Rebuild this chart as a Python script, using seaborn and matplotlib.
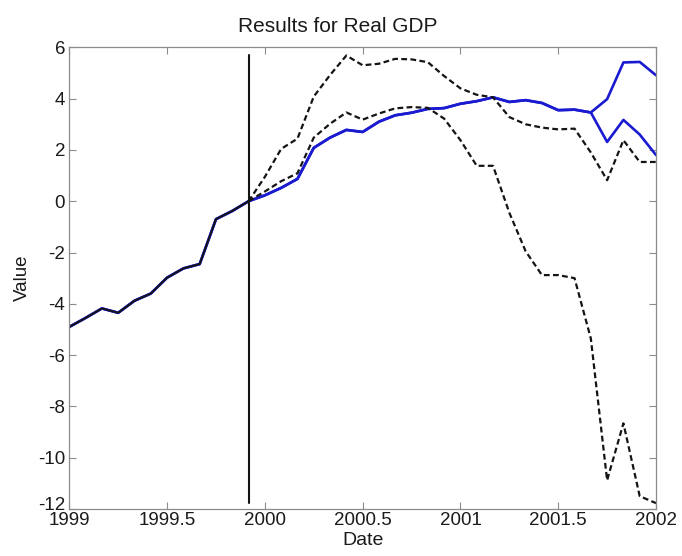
import numpy as np
import pandas as pd
import matplotlib
matplotlib.use("Agg")
import matplotlib.pyplot as plt
import matplotlib.transforms as mtransforms
import seaborn as sns

# monthly dates, Jan 1999 .. Jan 2002
dates = 1999 + np.arange(37) / 12.0

# observed history up to the forecast origin (1999 + 11/12)
history = [-4.90, -4.55, -4.18, -4.35, -3.88, -3.60, -2.98, -2.62, -2.45, -0.70, -0.38, 0.00]

# blue path after the origin (shared part, i = 12..32)
blue_shared = [0.23, 0.52, 0.87, 2.08, 2.48, 2.78, 2.70, 3.10, 3.35, 3.45, 3.60,
               3.63, 3.80, 3.90, 4.05, 3.87, 3.94, 3.83, 3.55, 3.57, 3.46]
# the two blue tails (i = 33..36)
blue_tail_upper = [3.98, 5.41, 5.43, 4.91]
blue_tail_lower = [2.31, 3.17, 2.60, 1.80]

# dashed bands from the origin (i = 11..36)
band_upper = [0.00, 0.95, 2.04, 2.44, 4.08, 4.92, 5.68, 5.30, 5.36, 5.55, 5.53, 5.42, 4.88,
              4.40, 4.15, 4.05, 3.28, 3.00, 2.87, 2.80, 2.83, 1.90, 0.82, 2.38, 1.53, 1.53]
band_lower = [0.00, 0.38, 0.78, 1.09, 2.48, 3.02, 3.46, 3.18, 3.42, 3.62, 3.67, 3.64, 3.22,
              2.38, 1.38, 1.38, -0.45, -1.95, -2.88, -2.88, -3.00, -5.35, -10.88, -8.66,
              -11.50, -11.77]

origin = 1999 + 11 / 12.0
origin_line = [-11.75, 5.70]

x_ticks = [1999, 1999.5, 2000, 2000.5, 2001, 2001.5, 2002]
x_tick_labels = ["1999", "1999.5", "2000", "2000.5", "2001", "2001.5", "2002"]
y_ticks = list(range(-12, 7, 2))

sns.set_theme(style="white")
plt.rcParams['font.family'] = ['Liberation Sans', 'DejaVu Sans']
plt.rcParams['axes.unicode_minus'] = False

blue_a = pd.DataFrame({'Date': dates, 'Value': history + blue_shared + blue_tail_upper})
blue_b = pd.DataFrame({'Date': dates, 'Value': history + blue_shared + blue_tail_lower})
hist = pd.DataFrame({'Date': dates[:12], 'Value': history})
up = pd.DataFrame({'Date': dates[11:], 'Value': band_upper})
lo = pd.DataFrame({'Date': dates[11:], 'Value': band_lower})

fig = plt.figure(figsize=(6.82, 5.56), dpi=100)
ax = fig.add_axes([0.1016, 0.0845, 0.8603, 0.8304])

blue = '#1a1ad0'
sns.lineplot(data=blue_b, x='Date', y='Value', color=blue, linewidth=1.9, ax=ax)
sns.lineplot(data=blue_a, x='Date', y='Value', color=blue, linewidth=1.9, ax=ax)
sns.lineplot(data=hist, x='Date', y='Value', color='#141414', linewidth=1.4, ax=ax)
sns.lineplot(data=up, x='Date', y='Value', color='#141414', linewidth=1.6,
             linestyle=(0, (2.6, 1.5)), ax=ax)
sns.lineplot(data=lo, x='Date', y='Value', color='#141414', linewidth=1.6,
             linestyle=(0, (2.6, 1.5)), ax=ax)
ax.plot([origin, origin], origin_line, color='#141414', linewidth=1.5)

ax.set_xlim(1999, 2002)
ax.set_ylim(-12, 6)
ax.set_xticks(x_ticks)
ax.set_xticklabels(x_tick_labels)
ax.set_yticks(y_ticks)

for s in ax.spines.values():
    s.set_color('#8c8c8c')
    s.set_linewidth(0.9)
ax.tick_params(direction='in', length=5, width=0.8, color='#8c8c8c',
               top=True, right=True, bottom=True, left=True,
               labelsize=13.5, labelcolor='#1a1a1a', pad=2)
ax.tick_params(axis='y', pad=3)

# MATLAB draws the lowest y label a little above the axis corner
fig.canvas.draw()
ylabels = ax.get_yticklabels()
ylabels[0].set_transform(ylabels[0].get_transform() +
                         mtransforms.ScaledTranslation(0, 4 / 72, fig.dpi_scale_trans))

ax.set_title('Results for Real GDP', fontsize=15, color='#1a1a1a', pad=11, x=0.457)
ax.set_xlabel('Date', fontsize=14, color='#1a1a1a', labelpad=2)
ax.set_ylabel('Value', fontsize=13.5, color='#1a1a1a', labelpad=5)

fig.savefig('out.png', dpi=100)
